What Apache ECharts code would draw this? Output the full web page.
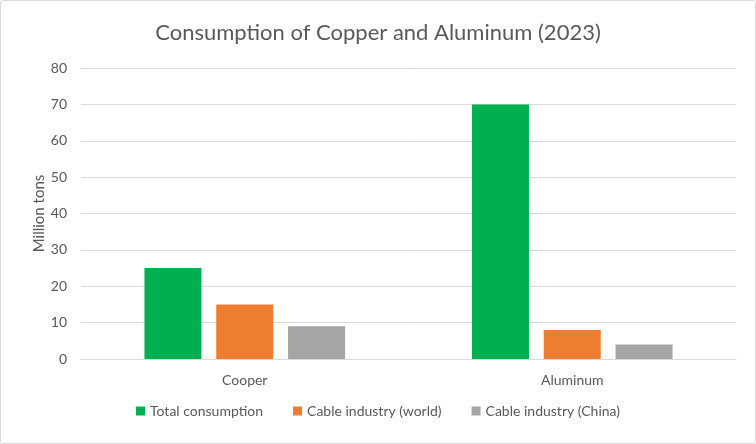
<!DOCTYPE html>
<html>
<head>
<meta charset="utf-8">
<script src="https://cdn.jsdelivr.net/npm/echarts@6/dist/echarts.min.js"></script>
<style>
html,body{margin:0;padding:0;background:#fff;}
#c{position:absolute;left:0;top:0;width:754px;height:442px;border:1px solid #d9d9d9;border-radius:3px;}
</style>
</head>
<body>
<div id="c"></div>
<script>
const categories = ['Cooper', 'Aluminum'];
const seriesNames = ['Total consumption', 'Cable industry (world)', 'Cable industry (China)'];
const totalConsumption = [25, 70];
const cableWorld = [15, 8];
const cableChina = [9, 4];
const yTicks = [0, 10, 20, 30, 40, 50, 60, 70, 80];
const colors = ['#00B050', '#ED7D31', '#A5A5A5'];

const chart = echarts.init(document.getElementById('c'));
const font = 'Lato, "Open Sans", sans-serif';
const dataSets = [totalConsumption, cableWorld, cableChina];
chart.setOption({
  animation: false,
  title: {
    text: 'Consumption of Copper and Aluminum (2023)',
    left: 'center', top: 16,
    textStyle: {fontFamily: font, fontSize: 22, fontWeight: 'normal', color: '#595959'}
  },
  legend: {
    data: seriesNames,
    bottom: 20, left: 'center',
    itemWidth: 9, itemHeight: 9, itemGap: 30,
    icon: 'rect',
    textStyle: {fontFamily: font, fontSize: 14, color: '#595959'}
  },
  grid: {left: 80, right: 19, top: 67, bottom: 84},
  xAxis: {
    type: 'category',
    data: categories,
    axisTick: {show: false},
    axisLine: {lineStyle: {color: '#d9d9d9'}},
    axisLabel: {fontFamily: font, fontSize: 14, color: '#595959', margin: 14}
  },
  yAxis: {
    type: 'value',
    min: yTicks[0], max: yTicks[yTicks.length - 1], interval: 10,
    name: 'Million tons',
    nameLocation: 'middle', nameGap: 42, nameRotate: 90,
    nameMoveOverlap: false,
    nameTextStyle: {fontFamily: font, fontSize: 15, color: '#595959', padding: [0, 0, 0, 0], verticalAlign: 'middle'},
    axisLine: {show: false},
    axisTick: {show: false},
    splitLine: {lineStyle: {color: '#d9d9d9'}},
    axisLabel: {fontFamily: font, fontSize: 14, color: '#595959', margin: 14}
  },
  series: seriesNames.map((n, i) => ({
    name: n, type: 'bar', data: dataSets[i],
    barWidth: '17.4%', barGap: '26%',
    itemStyle: {color: colors[i]}
  }))
});
</script>
</body>
</html>
